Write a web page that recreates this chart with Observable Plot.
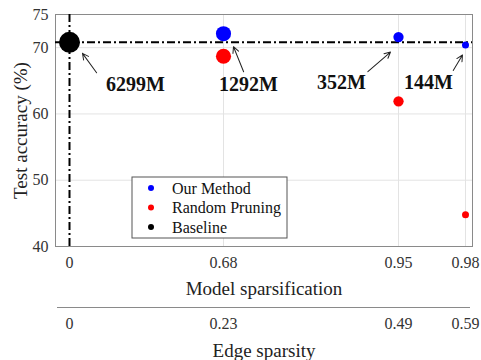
<!DOCTYPE html>
<html>
<head>
<meta charset="utf-8">
<script src="https://cdn.jsdelivr.net/npm/d3@7"></script>
<script src="https://cdn.jsdelivr.net/npm/@observablehq/plot@0.6"></script>
<style>
  html, body { margin: 0; padding: 0; background: #fff; }
  #chart { width: 481px; height: 360px; }
</style>
</head>
<body>
<div id="chart"></div>
<script>
// ---- data ----
const modelSparsity = [0, 0.68, 0.95, 0.98];
const modelTickLabels = ["0", "0.68", "0.95", "0.98"];
const edgeTickLabels = ["0", "0.23", "0.49", "0.59"];
const yTicks = [40, 50, 60, 70, 75];

const baselineSparsity = 0;
const baselineAcc = 70.8;
const baselineParams = 6299;

const prunedSparsity = [0.68, 0.95, 0.98];
const ourMethodAcc = [72.1, 71.6, 70.4];
const randomPruningAcc = [68.7, 61.9, 44.8];
const prunedParams = [1292, 352, 144];

const legendLabels = ["Our Method", "Random Pruning", "Baseline"];
const legendColors = ["#0000ff", "#ff0000", "#000000"];

// ---- tables ----
const baseline = [{x: baselineSparsity, y: baselineAcc, p: baselineParams}];
const ours = prunedSparsity.map((x, i) => ({x, y: ourMethodAcc[i], p: prunedParams[i]}));
const random = prunedSparsity.map((x, i) => ({x, y: randomPruningAcc[i], p: prunedParams[i]}));
const annotations = [baseline[0], ...ours].map(d => ({...d, label: `${d.p}M`}));

const serif = "Liberation Serif, Times New Roman, serif";
const dash = "8,3,2,3";

const arrowShape = {
  draw(context, l) {
    context.moveTo(0, 0);
    context.lineTo(0, -l);
    context.moveTo(-3, -l + 6);
    context.lineTo(0, -l);
    context.lineTo(3, -l + 6);
  }
};

// per-annotation placement (pixel offsets from the point)
const annotStyle = [
  {tdx: 66, tdy: 42, adx: 13, ady: 11, len: 24, rot: -36},
  {tdx: 25, tdy: 51, adx: 10, ady: 13, len: 27, rot: -22},
  {tdx: -57, tdy: 46, adx: -8, ady: 15, len: 30, rot: 49},
  {tdx: -37, tdy: 38, adx: -3, ady: 10, len: 18, rot: 31}
];

const annotMarks = annotations.flatMap((d, i) => {
  const s = annotStyle[i];
  return [
    Plot.text([d], {x: "x", y: "y", text: "label", dx: s.tdx, dy: s.tdy,
      fontSize: 20, fontWeight: "bold", fontFamily: serif, fill: "#111",
      textAnchor: "middle", lineAnchor: "middle"}),
    Plot.vector([d], {x: "x", y: "y", dx: s.adx, dy: s.ady, length: s.len, rotate: s.rot,
      anchor: "end", shape: arrowShape, stroke: "#222", strokeWidth: 1})
  ];
});

const svg = Plot.plot({
  width: 481,
  height: 360,
  marginLeft: 55,
  marginRight: 9,
  marginTop: 14,
  marginBottom: 114,
  style: {fontFamily: serif, background: "#fff"},
  x: {type: "linear", domain: modelSparsity, range: [69, 223, 398, 465]},
  y: {domain: [40, 75]},
  r: {type: "log", domain: [144, 6299], range: [3.5, 10.5]},
  marks: [
    Plot.gridY([50, 60, 70], {stroke: "#e3e3e3", strokeOpacity: 1}),
    Plot.gridX(prunedSparsity, {stroke: "#e3e3e3", strokeOpacity: 1}),
    Plot.frame({stroke: "#8a8a8a"}),
    Plot.axisY({ticks: yTicks, tickSize: 0, tickPadding: 7, fontSize: 16, fill: "#333", label: null}),
    Plot.axisX({ticks: modelSparsity, tickFormat: d => modelTickLabels[modelSparsity.indexOf(d)],
      tickSize: 0, tickPadding: 10, fontSize: 16, fill: "#333", label: null}),
    Plot.ruleY([40], {dy: 61, stroke: "#8a8a8a", insetLeft: 2, insetRight: 2}),
    Plot.axisX({ticks: modelSparsity, tickFormat: d => edgeTickLabels[modelSparsity.indexOf(d)],
      tickSize: 0, tickPadding: 10, dy: 61, fontSize: 16, fill: "#333", label: null}),
    Plot.text(["Model sparsification"], {frameAnchor: "bottom", dy: 42, fontSize: 19, fill: "#222", textAnchor: "middle", lineAnchor: "middle"}),
    Plot.text(["Edge sparsity"], {frameAnchor: "bottom", dy: 104, fontSize: 19, fill: "#222", textAnchor: "middle", lineAnchor: "middle"}),
    Plot.text(["Test accuracy (%)"], {frameAnchor: "left", dx: -35, rotate: -90, fontSize: 19, fill: "#222", textAnchor: "middle", lineAnchor: "middle"}),
    Plot.ruleY([baselineAcc], {stroke: "#000", strokeWidth: 2, strokeDasharray: dash}),
    Plot.ruleX([baselineSparsity], {stroke: "#000", strokeWidth: 2, strokeDasharray: dash}),
    Plot.dot(baseline, {x: "x", y: "y", r: "p", fill: legendColors[2]}),
    Plot.dot(random, {x: "x", y: "y", r: "p", fill: legendColors[1]}),
    Plot.dot(ours, {x: "x", y: "y", r: "p", fill: legendColors[0]}),
    ...annotMarks
  ]
});

// legend inside the plot area
const g = d3.select(svg).append("g").attr("transform", "translate(132,177)");
g.append("rect").attr("width", 155).attr("height", 61).attr("fill", "#fff").attr("stroke", "#555");
legendLabels.forEach((lab, i) => {
  const y = 11 + i * 19.5;
  g.append("circle").attr("cx", 19).attr("cy", y).attr("r", 3).attr("fill", legendColors[i]);
  g.append("text").attr("x", 40).attr("y", y).attr("dy", "0.35em")
    .attr("text-anchor", "start")
    .attr("font-size", 16).attr("font-family", serif).attr("fill", "#111").text(lab);
});

document.getElementById("chart").appendChild(svg);
</script>
</body>
</html>
